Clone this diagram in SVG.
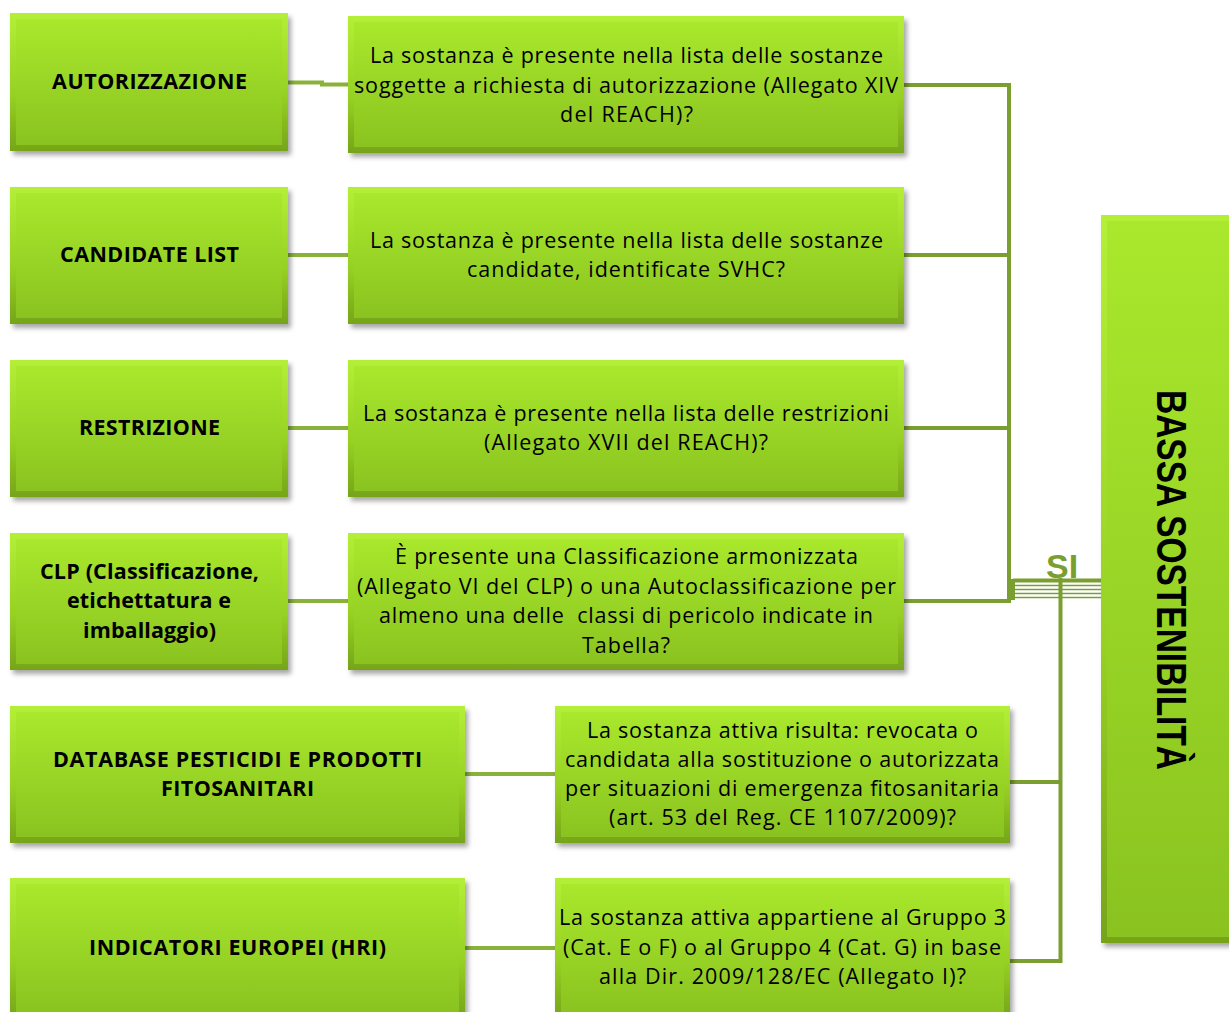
<svg xmlns="http://www.w3.org/2000/svg" width="1229" height="1012" viewBox="0 0 1229 1012">
<defs>
<linearGradient id="gOuter" x1="0" y1="0" x2="0" y2="1">
<stop offset="0" stop-color="#b4ef38"/>
<stop offset="0.6" stop-color="#96d023"/>
<stop offset="1" stop-color="#76a419"/>
</linearGradient>
<linearGradient id="gInner" x1="0" y1="0" x2="0" y2="1">
<stop offset="0" stop-color="#a9e82c"/>
<stop offset="1" stop-color="#8ac320"/>
</linearGradient>
<filter id="sh" x="-5%" y="-5%" width="115%" height="120%">
<feDropShadow dx="3" dy="4" stdDeviation="2.5" flood-color="#000" flood-opacity="0.35"/>
</filter>
</defs>
<style>
.o{fill:url(#gOuter);filter:url(#sh)}
.i{fill:url(#gInner)}
.q{font-family:"Open Sans","Liberation Sans",sans-serif;font-size:21.5px;fill:#000;text-anchor:middle;white-space:pre}
.l{font-family:"Open Sans","Liberation Sans",sans-serif;font-size:21.5px;font-weight:bold;fill:#000;text-anchor:middle}
.cl{fill:none;stroke:#89b23a;stroke-width:4}
.cr{fill:none;stroke:#7a9f30;stroke-width:4}
.thin{fill:none;stroke:#7a9f30;stroke-width:1.6}
</style>
<rect width="1229" height="1012" fill="#fff"/>

<g id="connectors">
<path class="cl" d="M288,82.5 H322 V84.5 H348"/>
<path class="cl" d="M288,255 H348"/>
<path class="cl" d="M288,428 H348"/>
<path class="cl" d="M288,601 H348"/>
<path class="cl" d="M465,774 H555"/>
<path class="cl" d="M465,948 H555"/>
<path class="cr" d="M904,85 H1009 V601 H904"/>
<path class="cr" d="M904,255 H1009"/>
<path class="cr" d="M904,428 H1009"/>
<path class="cr" d="M1013,580.5 H1101"/>
<path class="cr" d="M1013,579 V600"/>
<path class="thin" d="M1013,585.5 H1101 M1013,589.5 H1101 M1013,593.5 H1101 M1013,597.5 H1101"/>
<path class="cr" d="M1060.5,578 V961 H1010"/>
<path class="cr" d="M1010,782 H1060.5"/>
<text x="1046" y="578" font-family="Liberation Sans,Arial,sans-serif" font-size="34" font-weight="bold" fill="#7a9f30">SI</text>
</g>

<g id="n-autorizzazione">
<rect class="o" x="10" y="13" width="278" height="138"/>
<rect class="i" x="16" y="19" width="266" height="126"/>
<text class="l" x="149.5" y="89" textLength="195">AUTORIZZAZIONE</text>
</g>
<g id="n-candidate">
<rect class="o" x="10" y="187" width="278" height="137"/>
<rect class="i" x="16" y="193" width="266" height="125"/>
<text class="l" x="149.5" y="262" textLength="179">CANDIDATE LIST</text>
</g>
<g id="n-restrizione">
<rect class="o" x="10" y="360" width="278" height="137"/>
<rect class="i" x="16" y="366" width="266" height="125"/>
<text class="l" x="149.5" y="435" textLength="141">RESTRIZIONE</text>
</g>
<g id="n-clp">
<rect class="o" x="10" y="533" width="278" height="137"/>
<rect class="i" x="16" y="539" width="266" height="125"/>
<text class="l" x="149.5" y="579" textLength="219">CLP (Classificazione,</text>
<text class="l" x="149" y="608" textLength="164">etichettatura e</text>
<text class="l" x="149.5" y="638" textLength="133">imballaggio)</text>
</g>
<g id="n-database">
<rect class="o" x="10" y="706" width="455" height="137"/>
<rect class="i" x="16" y="712" width="443" height="125"/>
<text class="l" x="237.5" y="767" textLength="369">DATABASE PESTICIDI E PRODOTTI</text>
<text class="l" x="237.5" y="796" textLength="153">FITOSANITARI</text>
</g>
<g id="n-indicatori">
<rect class="o" x="10" y="878" width="455" height="140"/>
<rect class="i" x="16" y="884" width="443" height="128"/>
<text class="l" x="237.5" y="955" textLength="297">INDICATORI EUROPEI (HRI)</text>
</g>

<g id="q-autorizzazione">
<rect class="o" x="348" y="16" width="556" height="137"/>
<rect class="i" x="354" y="22" width="544" height="125"/>
<text class="q" x="626.5" y="63" textLength="513">La sostanza è presente nella lista delle sostanze</text>
<text class="q" x="626" y="92.5" textLength="544">soggette a richiesta di autorizzazione (Allegato XIV</text>
<text class="q" x="626.5" y="122" textLength="133">del REACH)?</text>
</g>
<g id="q-candidate">
<rect class="o" x="348" y="187" width="556" height="137"/>
<rect class="i" x="354" y="193" width="544" height="125"/>
<text class="q" x="626.5" y="248" textLength="513">La sostanza è presente nella lista delle sostanze</text>
<text class="q" x="626" y="277" textLength="318">candidate, identificate SVHC?</text>
</g>
<g id="q-restrizione">
<rect class="o" x="348" y="360" width="556" height="137"/>
<rect class="i" x="354" y="366" width="544" height="125"/>
<text class="q" x="626" y="421" textLength="526">La sostanza è presente nella lista delle restrizioni</text>
<text class="q" x="626" y="450" textLength="284">(Allegato XVII del REACH)?</text>
</g>
<g id="q-clp">
<rect class="o" x="348" y="533" width="556" height="137"/>
<rect class="i" x="354" y="539" width="544" height="125"/>
<text class="q" x="626.5" y="564" textLength="463">È presente una Classificazione armonizzata</text>
<text class="q" x="626.5" y="594" textLength="539">(Allegato VI del CLP) o una Autoclassificazione per</text>
<text class="q" x="626" y="623" textLength="494">almeno una delle  classi di pericolo indicate in</text>
<text class="q" x="626" y="653" textLength="88">Tabella?</text>
</g>
<g id="q-database">
<rect class="o" x="555" y="706" width="455" height="137"/>
<rect class="i" x="561" y="712" width="443" height="125"/>
<text class="q" x="782.5" y="738" textLength="391">La sostanza attiva risulta: revocata o</text>
<text class="q" x="782" y="767" textLength="434">candidata alla sostituzione o autorizzata</text>
<text class="q" x="782" y="796" textLength="434">per situazioni di emergenza fitosanitaria</text>
<text class="q" x="782.5" y="825" textLength="347">(art. 53 del Reg. CE 1107/2009)?</text>
</g>
<g id="q-indicatori">
<rect class="o" x="555" y="878" width="455" height="140"/>
<rect class="i" x="561" y="884" width="443" height="128"/>
<text class="q" x="782.5" y="925" textLength="447">La sostanza attiva appartiene al Gruppo 3</text>
<text class="q" x="782" y="955" textLength="438">(Cat. E o F) o al Gruppo 4 (Cat. G) in base</text>
<text class="q" x="782.5" y="984" textLength="367">alla Dir. 2009/128/EC (Allegato I)?</text>
</g>

<g id="n-bassa-sostenibilita">
<rect class="o" x="1101" y="215" width="140" height="728"/>
<rect class="i" x="1107" y="221" width="128" height="716"/>
<text transform="translate(1172,580) rotate(90)" x="0" y="15" text-anchor="middle" font-family="Liberation Sans,Arial,sans-serif" font-size="42" font-weight="bold" fill="#000" textLength="380" lengthAdjust="spacingAndGlyphs">BASSA SOSTENIBILITÀ</text>
</g>
</svg>
